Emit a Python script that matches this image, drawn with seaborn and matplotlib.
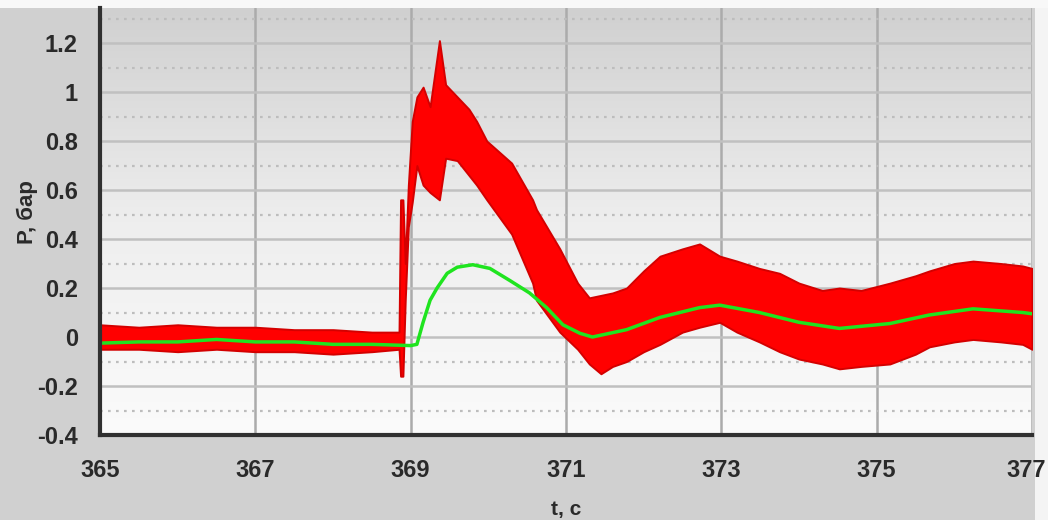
import numpy as np
import pandas as pd
import matplotlib
matplotlib.use("Agg")
import matplotlib.pyplot as plt
from matplotlib.transforms import ScaledTranslation
import seaborn as sns

# Pressure record: envelope of the raw (oscillating) signal and its filtered trace
t_raw = [365.0, 365.5, 366.0, 366.5, 367.0, 367.5, 368.0, 368.5, 368.85, 368.87,
         368.90, 368.93, 368.97, 369.02, 369.08, 369.16, 369.25, 369.37, 369.45,
         369.6, 369.75, 369.85, 369.98, 370.3, 370.57, 370.62, 370.92, 371.15,
         371.3, 371.45, 371.6, 371.78, 372.0, 372.21, 372.5, 372.72, 372.98,
         373.2, 373.49, 373.75, 374.0, 374.3, 374.52, 374.8, 375.17, 375.5,
         375.68, 376.0, 376.24, 376.6, 376.88, 377.0]
p_raw_high = [0.05, 0.04, 0.05, 0.04, 0.04, 0.03, 0.03, 0.02, 0.02, 0.56,
              0.56, 0.30, 0.62, 0.88, 0.98, 1.02, 0.94, 1.21, 1.03,
              0.98, 0.93, 0.88, 0.80, 0.71, 0.56, 0.52, 0.36, 0.22,
              0.16, 0.17, 0.18, 0.20, 0.27, 0.33, 0.36, 0.38, 0.33,
              0.31, 0.28, 0.26, 0.22, 0.19, 0.20, 0.19, 0.22, 0.25,
              0.27, 0.30, 0.31, 0.30, 0.29, 0.28]
p_raw_low = [-0.05, -0.05, -0.06, -0.05, -0.06, -0.06, -0.07, -0.06, -0.05, -0.16,
             -0.16, 0.15, 0.45, 0.55, 0.70, 0.62, 0.59, 0.56, 0.73,
             0.72, 0.66, 0.62, 0.56, 0.42, 0.22, 0.15, 0.02, -0.05,
             -0.11, -0.15, -0.12, -0.10, -0.06, -0.03, 0.02, 0.04, 0.06,
             0.02, -0.02, -0.06, -0.09, -0.11, -0.13, -0.12, -0.11, -0.07,
             -0.04, -0.02, -0.01, -0.02, -0.03, -0.05]

t_filt = [365.0, 365.5, 366.0, 366.5, 367.0, 367.5, 368.0, 368.5, 369.0, 369.08,
          369.16, 369.25, 369.34, 369.47, 369.6, 369.8, 370.02, 370.28, 370.53,
          370.75, 370.96, 371.18, 371.34, 371.78, 372.21, 372.72, 372.98, 373.49,
          374.0, 374.52, 375.17, 375.68, 376.24, 376.88, 377.0]
p_filt = [-0.025, -0.02, -0.02, -0.01, -0.02, -0.02, -0.03, -0.03, -0.035, -0.03,
          0.06, 0.15, 0.20, 0.26, 0.285, 0.295, 0.28, 0.23, 0.18,
          0.12, 0.05, 0.015, 0.0, 0.03, 0.08, 0.12, 0.13, 0.10,
          0.06, 0.035, 0.055, 0.09, 0.115, 0.10, 0.095]

x_ticks = [365, 367, 369, 371, 373, 375, 377]
y_ticks = [-0.4, -0.2, 0.0, 0.2, 0.4, 0.6, 0.8, 1.0, 1.2]
y_tick_labels = ["-0.4", "-0.2", "0", "0.2", "0.4", "0.6", "0.8", "1", "1.2"]

raw = pd.DataFrame({"t": t_raw, "high": p_raw_high, "low": p_raw_low})
filt = pd.DataFrame({"t": t_filt, "p": p_filt})

sns.set_theme(style="white")
plt.rcParams["font.family"] = ["Liberation Sans Narrow", "Liberation Sans", "DejaVu Sans"]

fig = plt.figure(figsize=(10.48, 5.2), dpi=100, facecolor="#d0d0d0")

# light frame strip on the right and the top edge (behind the axes)
fig.patches.append(plt.Rectangle((1035 / 1048, 0), 13 / 1048, 1, transform=fig.transFigure,
                                 facecolor="#f4f4f4", edgecolor="none", zorder=-5))
fig.patches.append(plt.Rectangle((0, 1 - 8 / 520), 1, 8 / 520, transform=fig.transFigure,
                                 facecolor="#f8f8f8", edgecolor="none", zorder=-5))

ax = fig.add_axes([100 / 1048, 1 - 435 / 520, 932 / 1048, 427 / 520])
ax.set_zorder(2)
ax.set_xlim(365, 377)
ax.set_ylim(-0.4, 1.343)

# vertical gradient of the plotting area
grad = np.linspace(0, 1, 256).reshape(-1, 1)
cmap = matplotlib.colors.LinearSegmentedColormap.from_list(
    "panel", ["#fbfbfb", "#eeeeee", "#d0d0d0"])
ax.imshow(grad, aspect="auto", cmap=cmap, origin="lower",
          extent=[365, 377, -0.4, 1.343], zorder=0)

# grid: solid lines on majors, dotted on the half steps
for x in x_ticks[1:]:
    ax.axvline(x, color="#ababab", lw=1.8, zorder=1)
for y in y_ticks[1:]:
    ax.axhline(y, color="#c0c0c0", lw=1.8, zorder=1)
for y in np.arange(-0.3, 1.35, 0.2):
    ax.axhline(y, color="#bdbdbd", lw=1.6, ls=(0, (1.2, 2.4)), zorder=1)

# raw signal band
ax.fill_between(raw["t"], raw["low"], raw["high"], color="#ff0000",
                edgecolor="#d40000", linewidth=1.4, zorder=3)

# filtered trace
sns.lineplot(data=filt, x="t", y="p", ax=ax, color="#1fe41f", linewidth=2.5,
             zorder=4, estimator=None, sort=False)

ax.set_xticks(x_ticks)
ax.set_xticklabels([str(v) for v in x_ticks])
ax.set_yticks(y_ticks)
ax.set_yticklabels(y_tick_labels)
ax.tick_params(axis="both", length=0, labelsize=17, colors="#2a2a2a")
ax.tick_params(axis="y", pad=16)
ax.tick_params(axis="x", pad=17)
for lbl in ax.get_xticklabels() + ax.get_yticklabels():
    lbl.set_fontweight("bold")
# nudge the last x label inward so it stays inside the canvas
last = ax.get_xticklabels()[-1]
last.set_transform(last.get_transform() + ScaledTranslation(-6 / 100, 0, fig.dpi_scale_trans))

ax.set_xlabel("")
ax.set_ylabel("")
fig.text(27 / 1048, 1 - 212 / 520, "P, бар", rotation=90, ha="center", va="center",
         fontsize=16, fontweight="bold", color="#2a2a2a")
fig.text(566 / 1048, 1 - 509 / 520, "t, c", ha="center", va="center",
         fontsize=15, fontweight="bold", color="#2a2a2a")

for side in ("top", "right"):
    ax.spines[side].set_visible(False)
for side in ("left", "bottom"):
    ax.spines[side].set_color("#303030")
    ax.spines[side].set_linewidth(3.0)
    ax.spines[side].set_zorder(5)

fig.savefig("out.png", dpi=100, facecolor=fig.get_facecolor())
